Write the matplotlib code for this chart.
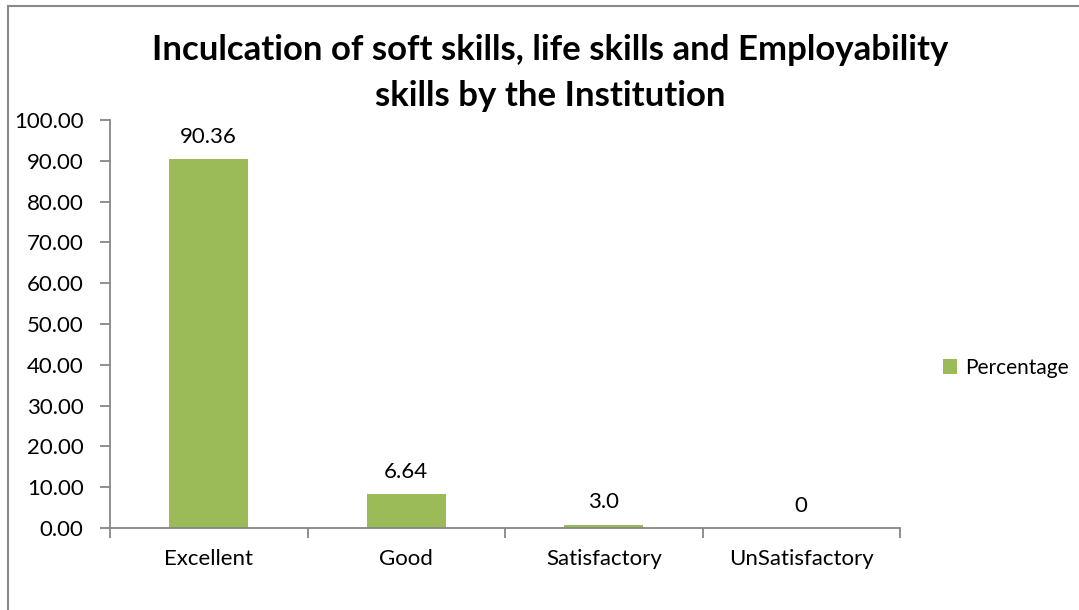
import matplotlib.pyplot as plt
from matplotlib.patches import Rectangle

categories = ['Excellent', 'Good', 'Satisfactory', 'UnSatisfactory']
percentage = [90.36, 8.3, 0.8, 0.0]
value_labels = ['90.36', '6.64', '3.0', '0']
yticks = [0, 10, 20, 30, 40, 50, 60, 70, 80, 90, 100]

plt.rcParams['font.family'] = ['Lato', 'DejaVu Sans']

green = '#9BBB59'
axis_grey = '#868686'

fig = plt.figure(figsize=(10.79, 6.10), dpi=100)
fig.patch.set_facecolor('w')

# chart area border (cut off at right and bottom)
fig.patches.append(Rectangle((8 / 1079, -0.1), 1.2, 1.1 - 6 / 610,
                             transform=fig.transFigure, fill=False,
                             edgecolor='#898989', linewidth=1.5))

ax = fig.add_axes([110 / 1079, 82 / 610, 790 / 1079, 408 / 610])
x = list(range(len(categories)))
bars = ax.bar(x, percentage, width=0.4, color=green, label='Percentage')

for rect, txt in zip(bars, value_labels):
    ax.annotate(txt, (rect.get_x() + rect.get_width() / 2, rect.get_height()),
                xytext=(0, 9), textcoords='offset points',
                ha='center', va='bottom', fontsize=16)

ax.set_xlim(-0.5, len(categories) - 0.5)
ax.set_ylim(0, 100)
ax.set_yticks(yticks)
ax.set_yticklabels([f'{v:.2f}' for v in yticks])
ax.set_xticks(x)
ax.set_xticklabels(categories)
ax.set_xticks([i - 0.5 for i in range(len(categories) + 1)], minor=True)
ax.tick_params(axis='x', which='major', length=0, pad=15, labelsize=16)
ax.tick_params(axis='x', which='minor', length=7, color=axis_grey, width=1.3)
ax.tick_params(axis='y', length=7, color=axis_grey, width=1.3, pad=12, labelsize=16)

for s in ['top', 'right']:
    ax.spines[s].set_visible(False)
for s in ['left', 'bottom']:
    ax.spines[s].set_color(axis_grey)
    ax.spines[s].set_linewidth(1.3)

fig.text(550 / 1079, 1 - 73 / 610,
         'Inculcation of soft skills, life skills and Employability\nskills by the Institution',
         ha='center', va='center', fontsize=25, fontweight='bold', linespacing=1.5)

fig.legend(handles=[bars], labels=['Percentage'], loc='center left',
           bbox_to_anchor=(928 / 1079, 1 - 368 / 610), frameon=False,
           fontsize=15, handlelength=0.7, handleheight=0.7, handletextpad=0.4,
           borderpad=0.2)

fig.savefig('out.png', dpi=100)
